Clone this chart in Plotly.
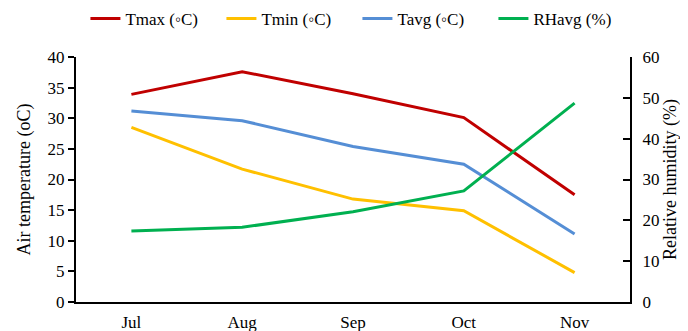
import plotly.graph_objects as go

months = ["Jul", "Aug", "Sep", "Oct", "Nov"]
tmax = [33.9, 37.6, 34.0, 30.1, 17.5]
tmin = [28.5, 21.7, 16.8, 14.9, 4.8]
tavg = [31.2, 29.6, 25.4, 22.5, 11.1]
rhavg = [17.4, 18.3, 22.1, 27.2, 48.7]

font = "Liberation Serif"
fig = go.Figure()
fig.add_trace(go.Scatter(x=months, y=tmax, name="Tmax (\u25e6C)", mode="lines",
                         line=dict(color="#C00000", width=3)))
fig.add_trace(go.Scatter(x=months, y=tmin, name="Tmin (\u25e6C)", mode="lines",
                         line=dict(color="#FFC000", width=3)))
fig.add_trace(go.Scatter(x=months, y=tavg, name="Tavg (\u25e6C)", mode="lines",
                         line=dict(color="#558ED5", width=3)))
fig.add_trace(go.Scatter(x=months, y=rhavg, name="RHavg (%)", mode="lines", yaxis="y2",
                         line=dict(color="#00B050", width=3)))

fig.update_layout(
    width=680, height=323,
    margin=dict(l=68, r=58, t=49, b=29, autoexpand=False),
    paper_bgcolor="white", plot_bgcolor="white",
    font=dict(family=font, size=17, color="black"),
    showlegend=True,
    legend=dict(orientation="h", x=0.508, xanchor="center", y=1.155, yanchor="middle",
                font=dict(family=font, size=17), entrywidth=91, entrywidthmode="pixels",
                traceorder="normal"),
    xaxis=dict(type="category", showline=True, linecolor="black", linewidth=2,
               ticks="", showgrid=False, ticklabelstandoff=4,
               tickfont=dict(family=font, size=17),
               range=[-0.5, 4.5], mirror=False),
    yaxis=dict(range=[0, 40], dtick=5, showline=True, linecolor="black", linewidth=2,
               ticks="outside", ticklen=6, tickwidth=1.5, tickcolor="black",
               showgrid=False, zeroline=False, tickfont=dict(family=font, size=17),
               title=dict(text="Air temperature (oC)", font=dict(family=font, size=18), standoff=12)),
    yaxis2=dict(range=[0, 60], dtick=10, overlaying="y", side="right", showline=True,
                linecolor="black", linewidth=2, ticks="inside", ticklen=7, tickwidth=1.5,
                tickcolor="black", showgrid=False, zeroline=False,
                ticklabelstandoff=7, tickfont=dict(family=font, size=17),
                title=dict(text="Relative humidity (%)", font=dict(family=font, size=18), standoff=5)),
)
fig.write_html("out.html")
